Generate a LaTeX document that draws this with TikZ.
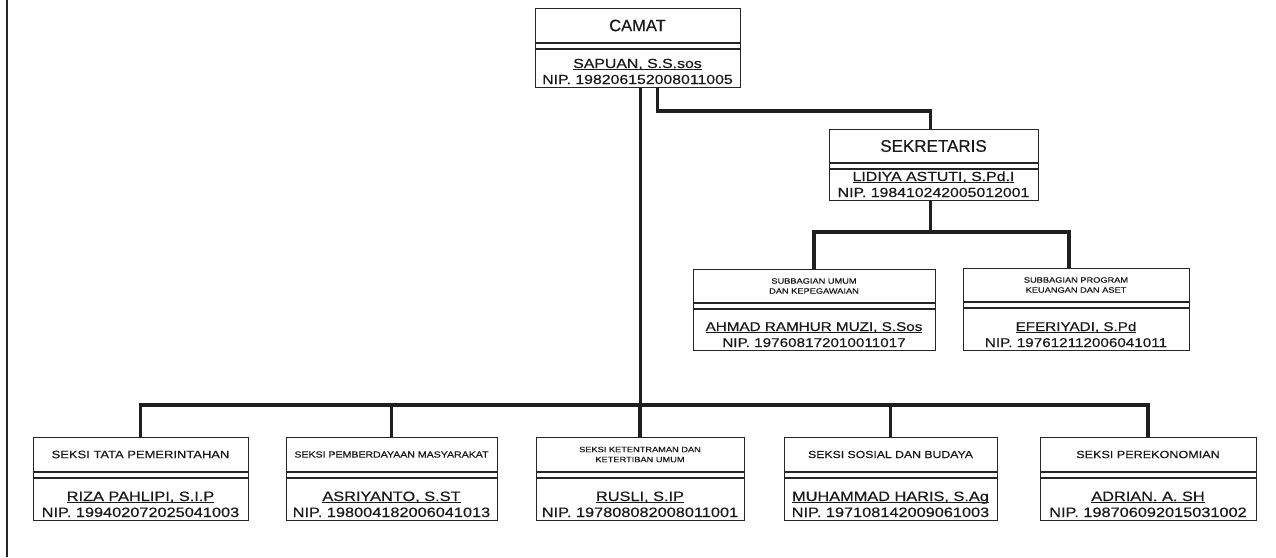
\documentclass[tikz,border=0pt]{standalone}
\usepackage{fontspec}
\setmainfont{Liberation Sans}[FakeStretch=1.2,FakeBold=0.4]
\newfontfamily\plainsans{Liberation Sans}[FakeBold=0.4]
\newcommand\fs[1]{\fontsize{#1}{#1}\selectfont}
\newcommand\nsize{13.2}
\newcommand\ul[1]{{\setbox0\hbox{#1}\rlap{\rule[-2.2pt]{\wd0}{0.8pt}}\box0}}
\tikzset{
  frame/.style={draw=black!85, line width=1pt, inner sep=0pt, fill=white},
  divline/.style={draw=black!85, line width=1.2pt},
  conn/.style={draw=black!88, line width=3.6pt},
  txt/.style={inner sep=0pt, text=black!90, align=center},
}
% #1 name, #2 cx, #3 top, #4 width, #5 height, #6 divider offset, #7 title, #8 person, #9 nip
\newcommand\orgbox[9]{%
  \node[frame, minimum width=#4pt, minimum height=#5pt, anchor=north] (#1) at (#2,#3) {};
  \draw[divline] ([yshift=-#6pt]#1.north west) -- ([yshift=-#6pt]#1.north east);
  \draw[divline] ([yshift=-#6pt-6pt]#1.north west) -- ([yshift=-#6pt-6pt]#1.north east);
  \node[txt] (#1-t) at ([yshift=-#6pt/2]#1.north) {#7};
  \node[txt, anchor=base] (#1-n) at ([yshift=20pt]#1.south) {\fs{\nsize}\ul{#8}};
  \node[txt, anchor=base] (#1-p) at ([yshift=4pt]#1.south) {\fs{\nsize}#9};
}
\begin{document}
\begin{tikzpicture}[x=1pt,y=-1pt]
\useasboundingbox[fill=white] (0,0) rectangle (1276,557);
\draw[black!85, line width=2pt] (7,0) -- (7,557);

\orgbox{camat}{637.5}{8}{205}{79}{35}{\plainsans\fs{16.5}CAMAT}{SAPUAN, S.S.sos}{NIP. 198206152008011005}
\orgbox{sek}{933.5}{129}{209}{71}{34}{\plainsans\fs{17}SEKRETARIS}{LIDIYA ASTUTI, S.Pd.I}{NIP. 198410242005012001}
\renewcommand\nsize{12.7}
\orgbox{subl}{814}{269}{242}{81}{34}{\fs{7.7}SUBBAGIAN UMUM\\[-2pt]\fs{7.7}DAN KEPEGAWAIAN}{AHMAD RAMHUR MUZI, S.Sos}{NIP. 197608172010011017}
\orgbox{subr}{1076}{268}{226}{82}{34}{\fs{7.7}SUBBAGIAN PROGRAM\\[-2pt]\fs{7.7}KEUANGAN DAN ASET}{EFERIYADI, S.Pd}{NIP. 197612112006041011}
\renewcommand\nsize{13.6}
\orgbox{s1}{140.5}{437}{215}{83}{35}{\fs{10.8}SEKSI TATA PEMERINTAHAN}{RIZA PAHLIPI, S.I.P}{NIP. 199402072025041003}
\orgbox{s2}{391.5}{437}{211}{83}{35}{\fs{8.8}SEKSI PEMBERDAYAAN MASYARAKAT}{ASRIYANTO, S.ST}{NIP. 198004182006041013}
\orgbox{s3}{640}{437}{208}{83}{35}{\fs{7.7}SEKSI KETENTRAMAN DAN\\[-2pt]\fs{7.7}KETERTIBAN UMUM}{RUSLI, S.IP}{NIP. 197808082008011001}
\orgbox{s4}{890.5}{437}{213}{83}{35}{\fs{10.2}SEKSI SOSIAL DAN BUDAYA}{MUHAMMAD HARIS, S.Ag}{NIP. 197108142009061003}
\orgbox{s5}{1148}{437}{216}{83}{35}{\fs{10.5}SEKSI PEREKONOMIAN}{ADRIAN. A. SH}{NIP. 198706092015031002}

\coordinate (bus) at (0,405);
\coordinate (sbus) at (0,232);

% CAMAT to sekretaris
\draw[conn] ([xshift=20pt]camat.south) -- ++(0,23) -| ([xshift=-3pt]sek.north);
% CAMAT trunk
\draw[conn] ([xshift=3pt]camat.south) -- ([xshift=3pt]camat.south |- bus);
% bottom bus
\draw[conn] (s1.north) -- (s1.north |- bus) -| (s5.north);
\draw[conn] (s2.north) -- (s2.north |- bus);
\draw[conn] (s3.north) -- (s3.north |- bus);
\draw[conn] (s4.north) -- (s4.north |- bus);
% sekretaris to subbagian
\draw[conn] ([xshift=-3pt]sek.south) -- ([xshift=-3pt]sek.south |- sbus);
\draw[conn] (subl.north) -- (subl.north |- sbus) -| ([xshift=-7pt]subr.north);
\end{tikzpicture}
\end{document}
